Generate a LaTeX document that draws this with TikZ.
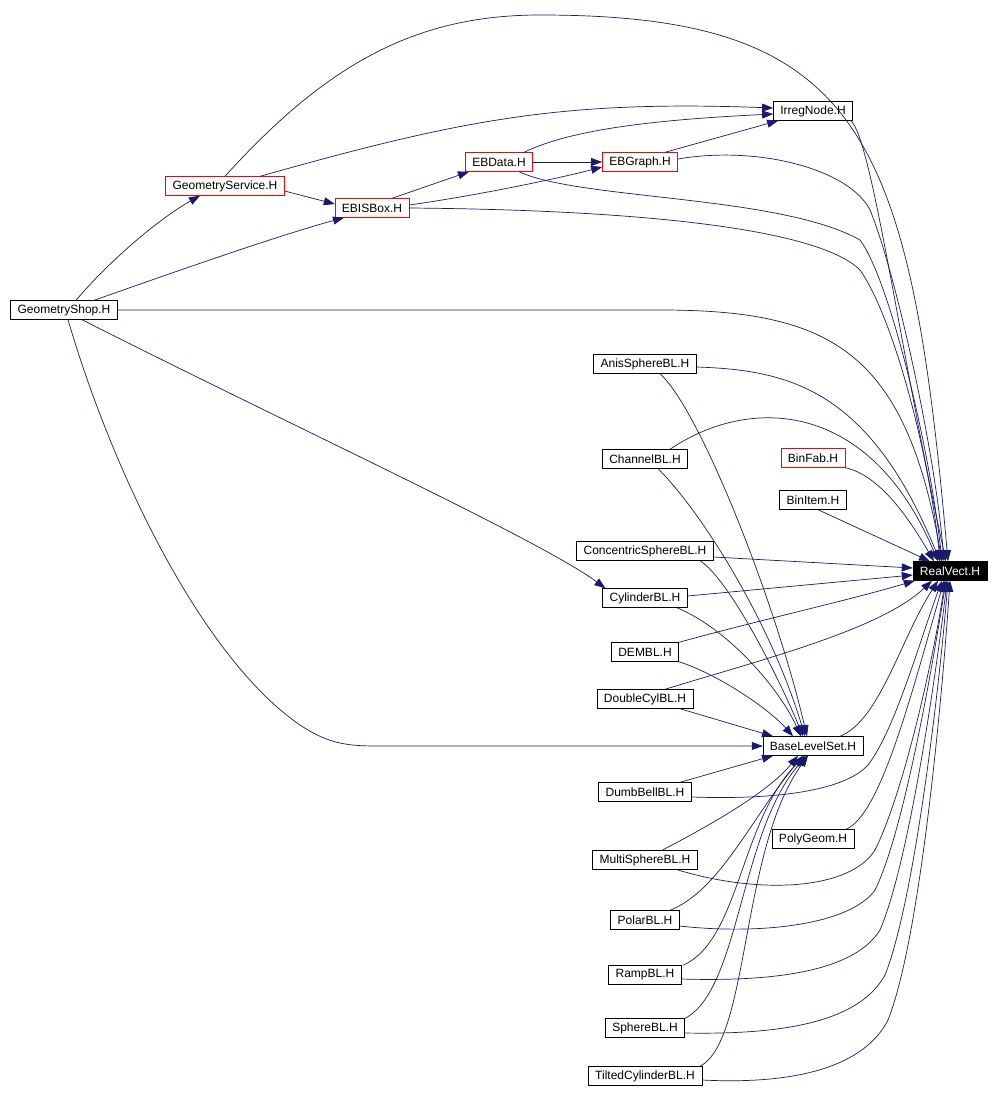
\documentclass[tikz,border=0pt]{standalone}
\usepackage{fontspec}
\setmainfont{Liberation Sans}
\usetikzlibrary{arrows.meta,positioning}
\definecolor{edgeblue}{RGB}{25,25,112}

\begin{document}
\begin{tikzpicture}[x=1pt,y=-1pt,
    hdr/.style={draw=black, fill=white, font=\fontsize{12}{14}\selectfont,
      inner xsep=7pt, inner ysep=0pt, minimum height=19pt},
    hdrred/.style={hdr, draw=red},
    hdrroot/.style={hdr, fill=black, text=white},
    dep/.style={edgeblue, line width=0.7pt, -{Triangle[length=11pt,width=8pt]}}]
  \useasboundingbox (0,0) rectangle (1002,1104);

  % headers
  \node[hdr] (gshop) at (64,310) {GeometryShop.H};
  \node[hdrred] (gserv) at (225,186) {GeometryService.H};
  \node[hdrred] (ebisbox) at (372,208) {EBISBox.H};
  \node[hdrred] (ebdata) at (499,162) {EBData.H};
  \node[hdrred] (ebgraph) at (640,162) {EBGraph.H};
  \node[hdr] (irreg) at (813,111) {IrregNode.H};
  \node[hdrroot] (rv) at (950,571) {RealVect.H};
  \node[hdr] (anis) at (645,364) {AnisSphereBL.H};
  \node[hdr] (channel) at (645,459) {ChannelBL.H};
  \node[hdrred] (binfab) at (813,458) {BinFab.H};
  \node[hdr] (binitem) at (813,500) {BinItem.H};
  \node[hdr] (concsph) at (645,551) {ConcentricSphereBL.H};
  \node[hdr] (cyl) at (645,598) {CylinderBL.H};
  \node[hdr] (dem) at (645,652) {DEMBL.H};
  \node[hdr] (dblcyl) at (645,699) {DoubleCylBL.H};
  \node[hdr] (bls) at (813,746) {BaseLevelSet.H};
  \node[hdr] (dumbbell) at (645,792) {DumbBellBL.H};
  \node[hdr] (polygeom) at (813,839) {PolyGeom.H};
  \node[hdr] (multisph) at (645,860) {MultiSphereBL.H};
  \node[hdr] (polar) at (645,920) {PolarBL.H};
  \node[hdr] (ramp) at (645,975) {RampBL.H};
  \node[hdr] (sphere) at (645,1028) {SphereBL.H};
  \node[hdr] (tilted) at (645,1076) {TiltedCylinderBL.H};

  % upper part
  \draw[dep] ([xshift=12pt]gshop.north) .. controls (110,260) and (160,218) .. ([xshift=-25pt]gserv.south);
  \draw[dep] ([xshift=30pt]gshop.north) .. controls (180,270) and (280,235) .. ([xshift=-28pt]ebisbox.south);
  \draw[dep] (gshop.east) -- (660,310) .. controls (830,310) and (905,350) .. ([xshift=-8pt]rv.north);
  \draw[dep] ([xshift=18pt]gshop.south) .. controls (300,430) and (540,540) .. ([xshift=3pt]cyl.north west);
  \draw[dep] ([xshift=4pt]gshop.south) .. controls (115,480) and (205,660) .. (300,725)
    .. controls (330,745) and (350,746) .. (380,746) -- (bls.west);
  \draw[dep] (gserv.north) .. controls (330,60) and (420,15) .. (540,15)
    .. controls (860,15) and (910,130) .. ([xshift=-2pt]rv.north);
  \draw[dep] ([xshift=35pt]gserv.north) .. controls (460,120) and (560,100) .. ([yshift=3pt]irreg.west);
  \draw[dep] ([yshift=-5pt]gserv.east) -- ([yshift=4pt]ebisbox.west);
  \draw[dep] ([xshift=20pt]ebisbox.north) -- ([xshift=-30pt]ebdata.south);
  \draw[dep] ([yshift=3pt]ebisbox.east) .. controls (480,195) and (560,178) .. ([yshift=-5pt]ebgraph.west);
  \draw[dep] (ebisbox.east) .. controls (650,210) and (820,230) .. (860,270)
    .. controls (895,320) and (930,460) .. ([xshift=-10pt]rv.north);
  \draw[dep] (ebdata.east) -- (ebgraph.west);
  \draw[dep] ([xshift=25pt]ebdata.north) .. controls (570,130) and (650,120) .. ([yshift=-3pt]irreg.west);
  \draw[dep] ([xshift=20pt]ebdata.south) .. controls (580,200) and (780,195) .. (860,240)
    .. controls (890,280) and (930,450) .. ([xshift=-8pt]rv.north);
  \draw[dep] ([xshift=25pt]ebgraph.north) -- ([xshift=5pt]irreg.south west);
  \draw[dep] ([yshift=3pt]ebgraph.east) .. controls (760,145) and (850,170) .. (870,210)
    .. controls (895,270) and (935,450) .. ([xshift=-6pt]rv.north);
  \draw[dep] ([xshift=-2pt]irreg.south east) .. controls (872,140) and (900,350) .. ([xshift=-4pt]rv.north);

  % BL headers to RealVect
  \draw[dep] ([yshift=-3pt]anis.east) .. controls (790,370) and (870,390) .. ([xshift=-10pt]rv.north);
  \draw[dep] ([xshift=25pt]channel.north) .. controls (750,395) and (870,400) .. ([xshift=-12pt]rv.north);
  \draw[dep] (binfab.south east) .. controls (880,475) and (910,520) .. ([xshift=-16pt]rv.north);
  \draw[dep] ([xshift=5pt]binitem.south) -- ([xshift=-20pt]rv.north);
  \draw[dep] ([yshift=-6pt]concsph.east) -- ([yshift=3pt]rv.west);
  \draw[dep] ([yshift=2pt]cyl.east) -- ([yshift=-4pt]rv.west);
  \draw[dep] (dem.north east) .. controls (760,620) and (850,600) .. ([xshift=2pt]rv.south west);
  \draw[dep] ([xshift=20pt]dblcyl.north) .. controls (760,660) and (880,630) .. ([xshift=-18pt]rv.south);
  \draw[dep] ([xshift=27pt]bls.north) .. controls (880,720) and (900,640) .. ([xshift=-12pt]rv.south);
  \draw[dep] ([yshift=-5pt]dumbbell.east) .. controls (780,800) and (845,790) .. (868,765)
    .. controls (895,730) and (920,640) .. ([xshift=-8pt]rv.south);
  \draw[dep] ([xshift=33pt]polygeom.north) .. controls (880,815) and (910,700) .. ([xshift=-6pt]rv.south);
  \draw[dep] ([xshift=32pt]multisph.south) .. controls (760,895) and (850,890) .. (875,850)
    .. controls (905,790) and (935,650) .. ([xshift=-5pt]rv.south);
  \draw[dep] ([yshift=-6pt]polar.east) .. controls (760,935) and (850,925) .. (875,890)
    .. controls (905,830) and (935,650) .. ([xshift=-4pt]rv.south);
  \draw[dep] ([yshift=-4pt]ramp.east) .. controls (780,982) and (855,970) .. (880,930)
    .. controls (910,860) and (938,660) .. ([xshift=-3pt]rv.south);
  \draw[dep] ([yshift=-5pt]sphere.east) .. controls (790,1035) and (860,1020) .. (885,975)
    .. controls (915,900) and (940,680) .. ([xshift=-2pt]rv.south);
  \draw[dep] ([yshift=-4pt]tilted.east) .. controls (800,1085) and (865,1065) .. (888,1020)
    .. controls (920,940) and (942,700) .. (rv.south);

  % BL headers to BaseLevelSet
  \draw[dep] ([xshift=15pt]anis.south) .. controls (700,410) and (775,600) .. ([xshift=-6pt]bls.north);
  \draw[dep] ([xshift=13pt]channel.south) .. controls (700,510) and (770,620) .. ([xshift=-8pt]bls.north);
  \draw[dep] ([xshift=55pt]concsph.south) .. controls (730,580) and (780,680) .. ([xshift=-10pt]bls.north);
  \draw[dep] ([xshift=32pt]cyl.south) .. controls (730,630) and (780,690) .. ([xshift=-12pt]bls.north);
  \draw[dep] (dem.south east) .. controls (720,675) and (770,710) .. ([xshift=-20pt]bls.north);
  \draw[dep] ([xshift=35pt]dblcyl.south) -- ([xshift=-40pt]bls.north);
  \draw[dep] ([xshift=35pt]dumbbell.north) -- ([xshift=-40pt]bls.south);
  \draw[dep] ([xshift=17pt]multisph.north) .. controls (720,820) and (770,790) .. ([xshift=-15pt]bls.south);
  \draw[dep] ([xshift=25pt]polar.north) .. controls (720,890) and (750,820) .. ([xshift=-10pt]bls.south);
  \draw[dep] ([xshift=38pt]ramp.north) .. controls (740,940) and (740,820) .. ([xshift=-8pt]bls.south);
  \draw[dep] ([xshift=40pt]sphere.north) .. controls (740,990) and (740,830) .. ([xshift=-6pt]bls.south);
  \draw[dep] ([xshift=55pt]tilted.north) .. controls (750,1040) and (740,850) .. ([xshift=-5pt]bls.south);
\end{tikzpicture}
\end{document}
